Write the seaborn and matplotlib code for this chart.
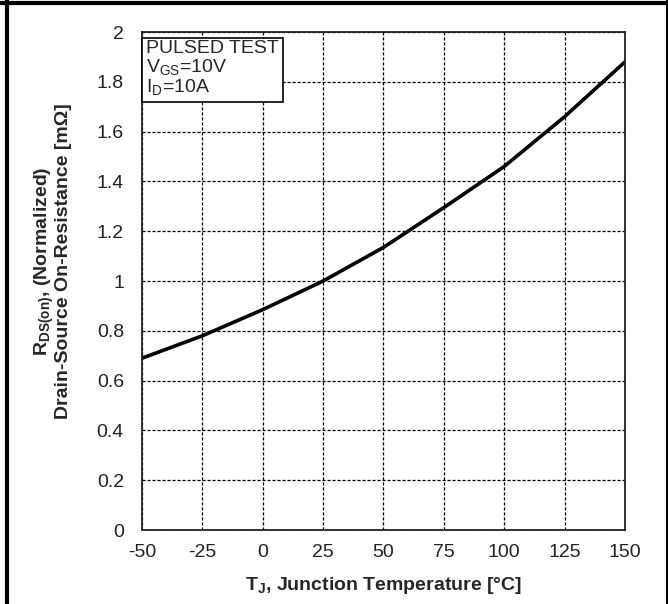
import matplotlib.pyplot as plt
from matplotlib.lines import Line2D
import pandas as pd
import seaborn as sns

sns.set_style("ticks")
plt.rcParams['font.family'] = ['Liberation Sans', 'DejaVu Sans']
plt.rcParams['mathtext.fontset'] = 'custom'
plt.rcParams['mathtext.rm'] = 'Liberation Sans'
plt.rcParams['mathtext.bf'] = 'Liberation Sans:bold'
plt.rcParams['axes.unicode_minus'] = False

# values
temp_c = [-50, -25, 0, 25, 50, 75, 100, 125, 150]
rds_norm = [0.69, 0.78, 0.885, 1.0, 1.135, 1.295, 1.46, 1.66, 1.88]
x_ticks = [-50, -25, 0, 25, 50, 75, 100, 125, 150]
y_ticks = [0, 0.2, 0.4, 0.6, 0.8, 1, 1.2, 1.4, 1.6, 1.8, 2]
y_tick_labels = ['0', '0.2', '0.4', '0.6', '0.8', '1', '1.2', '1.4', '1.6', '1.8', '2']

df = pd.DataFrame({'temp': temp_c, 'rds': rds_norm})

fig = plt.figure(figsize=(6.68, 6.04), dpi=100)
ax = fig.add_axes([0.2126, 0.1225, 0.7230, 0.8245])

sns.lineplot(data=df, x='temp', y='rds', color='black', linewidth=2.6, ax=ax)

ax.set_xlim(-50, 150)
ax.set_ylim(0, 2)
ax.set_xticks(x_ticks)
ax.set_yticks(y_ticks)
ax.set_yticklabels(y_tick_labels)
ax.tick_params(length=0, labelsize=14, colors='#222222')
ax.tick_params(axis='x', pad=10)
ax.tick_params(axis='y', pad=13)
ax.grid(True, color='black', linestyle=(0, (2.5, 1.5)), linewidth=0.9)
for s in ax.spines.values():
    s.set_color('#222222')
    s.set_linewidth(1.3)

ax.set_xlabel(r'T$_\mathbf{J}$, Junction Temperature [°C]', fontsize=14,
              fontweight='bold', labelpad=10)
ax.set_ylabel('R$_\\mathbf{DS(on)}$, (Normalized)\nDrain-Source On-Resistance [mΩ]',
              fontsize=14, fontweight='bold', linespacing=0.95)
ax.yaxis.set_label_coords(-0.145, 0.54)

ax.text(-48.3, 1.967, 'PULSED TEST\nV$_{\\mathrm{GS}}$=10V\nI$_{\\mathrm{D}}$=10A',
        fontsize=14, va='top', ha='left', linespacing=1.0,
        bbox=dict(boxstyle='square,pad=0.2', facecolor='white',
                  edgecolor='black', linewidth=1.2))

# outer frame of the datasheet cell
fig.add_artist(Line2D([0.011, 0.011], [0, 1], transform=fig.transFigure,
                      color='black', linewidth=3))
fig.add_artist(Line2D([0, 1], [0.995, 0.995], transform=fig.transFigure,
                      color='black', linewidth=3))
fig.add_artist(Line2D([0.998, 0.998], [0, 1], transform=fig.transFigure,
                      color='black', linewidth=1.5))

fig.savefig('out.png', dpi=100)
